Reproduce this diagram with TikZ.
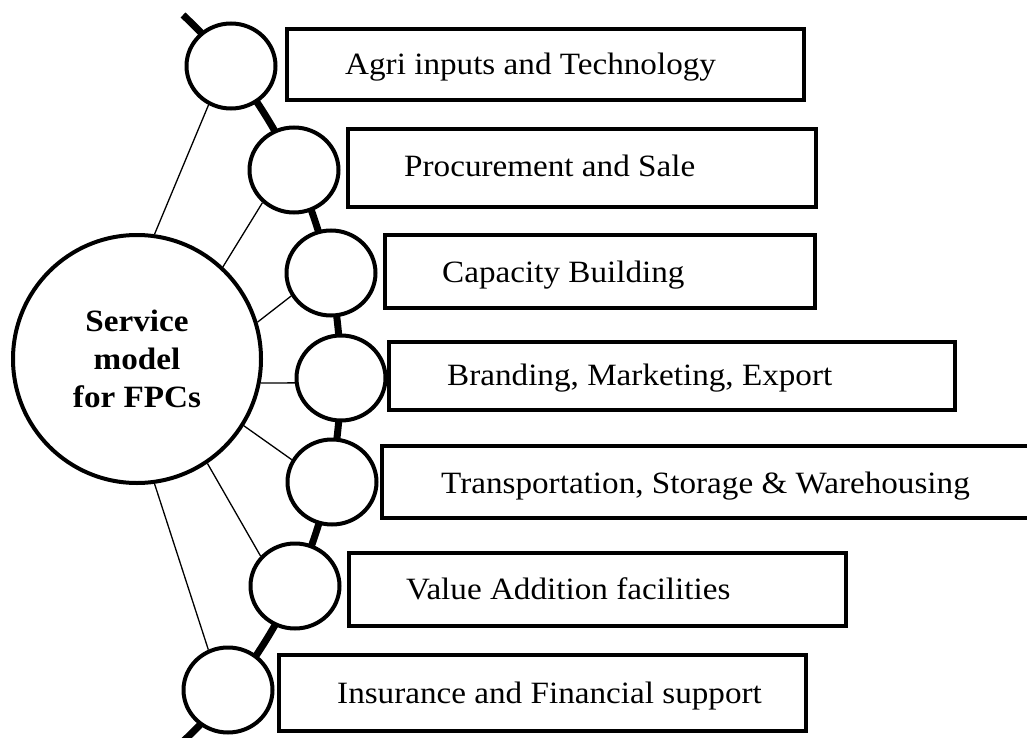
\documentclass[tikz,border=0pt]{standalone}
\usepackage{fontspec}
\setmainfont{Liberation Serif}
\usetikzlibrary{shapes.geometric}
% slightly widened lettering
\newcommand{\stretchtxt}[1]{\scalebox{1.07}[1]{#1}}

\begin{document}
\begin{tikzpicture}[x=1pt, y=-1pt,
  hub/.style={circle, draw, line width=4pt, fill=white, inner sep=0pt,
    minimum size=248pt, align=center,
    font=\fontsize{31}{38}\selectfont\bfseries},
  bead/.style={ellipse, draw, line width=4pt, fill=white, inner sep=0pt,
    minimum width=89pt, minimum height=85pt},
  servicebox/.style={rectangle, draw, line width=4.5pt, fill=white, inner sep=0pt},
  boxtext/.style={anchor=base west, inner sep=0pt,
    font=\fontsize{31}{38}\selectfont},
  spine/.style={line width=7pt},
  spoke/.style={line width=1.3pt}
]
\useasboundingbox (0,0) rectangle (1027,738);
\clip (0,0) rectangle (1027,738);
\fill[white] (0,0) rectangle (1027,738);

% service boxes
\node[servicebox, minimum width=517pt, minimum height=71pt] (b1) at (545.5,64.5) {};
\node[servicebox, minimum width=468pt, minimum height=78pt] (b2) at (582,168) {};
\node[servicebox, minimum width=430pt, minimum height=73pt] (b3) at (600,271.5) {};
\node[servicebox, minimum width=566pt, minimum height=68pt] (b4) at (672,376) {};
\node[servicebox, minimum width=660pt, minimum height=72pt] (b5) at (712,482) {};
\node[servicebox, minimum width=497pt, minimum height=73pt] (b6) at (597.5,589.5) {};
\node[servicebox, minimum width=527pt, minimum height=76pt] (b7) at (542.5,693) {};

\node[boxtext] (t1) at (345,75)  {\stretchtxt{Agri inputs and Technology}};
\node[boxtext] (t2) at (404,177) {\stretchtxt{Procurement and Sale}};
\node[boxtext] (t3) at (442,282) {\stretchtxt{Capacity Building}};
\node[boxtext] (t4) at (447,385) {\stretchtxt{Branding, Marketing, Export}};
\node[boxtext] (t5) at (441,493) {\stretchtxt{Transportation, Storage \& Warehousing}};
\node[boxtext] (t6) at (406,599) {\stretchtxt{Value Addition facilities}};
\node[boxtext] (t7) at (337,703) {\stretchtxt{Insurance and Financial support}};

% curved backbone through the beads
\coordinate (spineTop) at (183,15);
\draw[spine] (spineTop) arc[start angle=-46.9, end angle=47.5, radius=497.5];

% beads on the backbone
\node[bead] (c1) at (231,66)  {};
\node[bead] (c2) at (294,170) {};
\node[bead] (c3) at (331,273) {};
\node[bead] (c4) at (341,378) {};
\node[bead] (c5) at (332,482) {};
\node[bead] (c6) at (295,586) {};
\node[bead] (c7) at (228,690) {};

% central hub
\node[hub] (hub) at (137,359)
  {\stretchtxt{Service}\\\stretchtxt{model}\\\stretchtxt{for FPCs}};

% spokes from hub to beads
\draw[spoke] (hub.82)  -- (c1.240);
\draw[spoke] (hub.47)  -- (c2.226);
\draw[spoke] (hub.17)  -- (c3.210);
\draw[spoke] (hub.-11.5) -- (c4.186);
\draw[spoke] (hub.-32) -- (c5.151);
\draw[spoke] (hub.-56) -- (c6.139);
\draw[spoke] (hub.-82) -- (c7.116);
\end{tikzpicture}
\end{document}
